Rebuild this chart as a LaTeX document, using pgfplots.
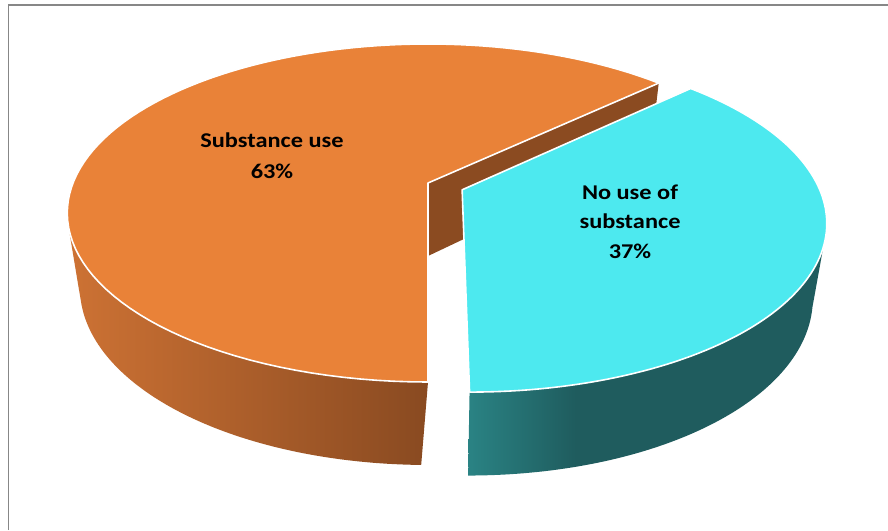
\documentclass[border=0pt]{standalone}
\usepackage{fontspec}
\setmainfont{Carlito}
\usepackage{graphicx}
\usepackage{pgfplots}
\usepackage{pgfplotstable}
\pgfplotsset{compat=1.18}

% shares of the two groups (percent)
\pgfplotstableread{
share
63
37
}\piedata

\definecolor{orangeTop}{RGB}{233,130,56}
\definecolor{orangeCut}{RGB}{139,75,33}
\definecolor{orangeSideL}{RGB}{205,114,52}
\definecolor{orangeSideR}{RGB}{137,74,33}
\definecolor{cyanTop}{RGB}{77,233,239}
\definecolor{cyanSideL}{RGB}{42,131,132}
\definecolor{cyanSideR}{RGB}{31,92,94}
\definecolor{frameGray}{RGB}{135,135,135}

\pgfdeclarehorizontalshading{orangeside}{100bp}{color(0bp)=(orangeSideL); color(25bp)=(orangeSideL); color(75bp)=(orangeSideR); color(100bp)=(orangeSideR)}
\pgfdeclarehorizontalshading{cyanside}{100bp}{color(0bp)=(cyanSideL); color(25bp)=(cyanSideL); color(40bp)=(cyanSideR); color(100bp)=(cyanSideR)}

% perspective view of the pie disc: (u,v) on the unit disc, v pointing away
\pgfmathdeclarefunction{tx}{2}{\pgfmathparse{428+355*(#1)/(1+0.1775*(#2))}}
\pgfmathdeclarefunction{ty}{2}{\pgfmathparse{347+163.7*(#2)/(1+0.1775*(#2))}}
\pgfmathdeclarefunction{bx}{2}{\pgfmathparse{428+0.965*355*(#1)/(1+0.1775*(#2))}}
\pgfmathdeclarefunction{by}{2}{\pgfmathparse{347+163.7*(#2)/(1+0.1775*(#2))-73/(1+0.12*(#2))}}

\newcommand\lbl[1]{\scalebox{1.16}[1]{#1}}

\begin{document}
\begin{tikzpicture}
\pgfplotstablegetelem{0}{share}\of\piedata \let\shareUse\pgfplotsretval
\pgfplotstablegetelem{1}{share}\of\piedata \let\shareNo\pgfplotsretval
% slice angles: "no use" runs from the front (-90) counter-clockwise
\pgfmathsetmacro\aStart{-90}
\pgfmathsetmacro\aSplit{-90+3.6*\shareNo}
\pgfmathsetmacro\aEnd{\aStart+3.6*\shareNo+3.6*\shareUse}
\pgfmathsetmacro\aMid{(\aStart+\aSplit)/2}
\pgfmathsetmacro\du{0.104*cos(\aMid)}
\pgfmathsetmacro\dv{0.104*sin(\aMid)}
% corners of the cut face of the larger slice
\pgfmathsetmacro\cs{cos(\aSplit)}
\pgfmathsetmacro\sn{sin(\aSplit)}
\pgfmathsetmacro\Ax{tx(0,0)}
\pgfmathsetmacro\Ay{ty(0,0)}
\pgfmathsetmacro\Ex{tx(\cs,\sn)}
\pgfmathsetmacro\Ey{ty(\cs,\sn)}
\pgfmathsetmacro\Fx{bx(\cs,\sn)}
\pgfmathsetmacro\Fy{by(\cs,\sn)}
\pgfmathsetmacro\Bx{bx(0,0)}
\pgfmathsetmacro\By{by(0,0)}
\begin{axis}[
  width=888pt, height=530pt, scale only axis,
  xmin=0, xmax=888, ymin=0, ymax=530,
  hide axis, ticks=none, clip=true,
]
\fill[white] (0,0) rectangle (888,530);
\draw[frameGray, line width=1.8pt] (8.5,0) -- (8.5,525.3) -- (888,525.3);

% ---- larger slice: side wall
\addplot[draw=none, shading=orangeside, domain=0:2, samples=161, variable=\t]
  ({\t<=1.0001 ? tx(cos(195+75*\t),sin(195+75*\t)) : bx(cos(195+75*(2-\t)),sin(195+75*(2-\t)))},
   {\t<=1.0001 ? ty(cos(195+75*\t),sin(195+75*\t)) : by(cos(195+75*(2-\t)),sin(195+75*(2-\t)))}) -- cycle;
% cut face
\addplot[draw=none, fill=orangeCut] coordinates {(\Ax,\Ay) (\Ex,\Ey) (\Fx,\Fy) (\Bx,\By)} -- cycle;
% top face
\addplot[fill=orangeTop, draw=white, line width=1.6pt, line join=round, domain=0:1.05, samples=106, variable=\t]
  ({\t<=1.001 ? tx(cos(\aSplit+(\aEnd-\aSplit)*\t),sin(\aSplit+(\aEnd-\aSplit)*\t)) : tx(0,0)},
   {\t<=1.001 ? ty(cos(\aSplit+(\aEnd-\aSplit)*\t),sin(\aSplit+(\aEnd-\aSplit)*\t)) : ty(0,0)}) -- cycle;

% ---- smaller slice (pulled out): side wall
\addplot[draw=none, shading=cyanside, domain=0:2, samples=161, variable=\t]
  ({\t<=1.0001 ? tx(cos(-90+77*\t)+\du,sin(-90+77*\t)+\dv) : bx(cos(-90+77*(2-\t))+\du,sin(-90+77*(2-\t))+\dv)},
   {\t<=1.0001 ? ty(cos(-90+77*\t)+\du,sin(-90+77*\t)+\dv) : by(cos(-90+77*(2-\t))+\du,sin(-90+77*(2-\t))+\dv)}) -- cycle;
% top face
\addplot[fill=cyanTop, draw=white, line width=1.6pt, line join=round, domain=0:1.05, samples=106, variable=\t]
  ({\t<=1.001 ? tx(cos(\aStart+(\aSplit-\aStart)*\t)+\du,sin(\aStart+(\aSplit-\aStart)*\t)+\dv) : tx(\du,\dv)},
   {\t<=1.001 ? ty(cos(\aStart+(\aSplit-\aStart)*\t)+\du,sin(\aStart+(\aSplit-\aStart)*\t)+\dv) : ty(\du,\dv)}) -- cycle;

% ---- labels
\node[align=center, font=\fontsize{21}{30.5}\selectfont\bfseries] at (272,374.5) {\lbl{Substance use}\\\lbl{\shareUse\%}};
\node[align=center, font=\fontsize{21}{29.5}\selectfont\bfseries] at (630,308.5) {\lbl{No use of}\\\lbl{substance}\\\lbl{\shareNo\%}};
\end{axis}
\end{tikzpicture}
\end{document}
